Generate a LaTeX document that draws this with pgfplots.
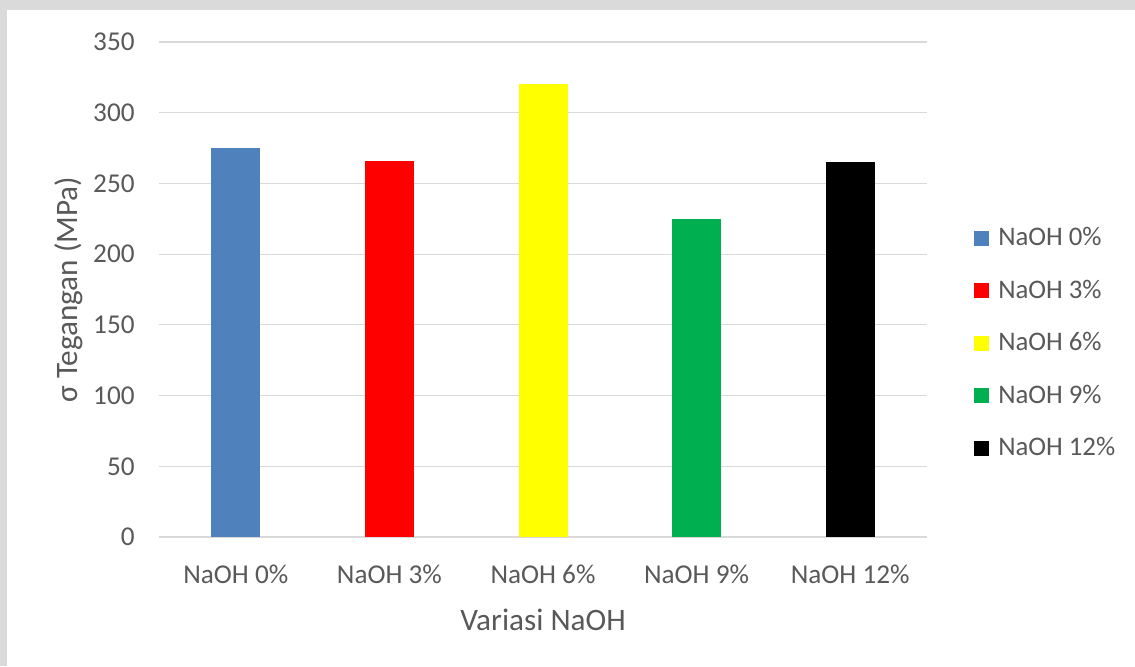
\documentclass[border=0pt]{standalone}
\usepackage{fontspec}
\setmainfont{Carlito}
\usepackage{pgfplots}
\pgfplotsset{compat=1.18}

\definecolor{txt}{HTML}{595959}
\definecolor{gridc}{HTML}{D9D9D9}
\definecolor{framec}{HTML}{DADADA}
\definecolor{c0}{HTML}{4F81BD}
\definecolor{c3}{HTML}{FF0000}
\definecolor{c6}{HTML}{FFFF00}
\definecolor{c9}{HTML}{00B050}
\definecolor{c12}{HTML}{000000}

\pgfplotsset{
  mybar/.style={
    ybar, bar width=24.5pt, bar shift=0pt, draw=none,
    legend image code/.code={\fill[##1,draw=none] (0pt,-4.4pt) rectangle (7.5pt,3.1pt);}
  }
}

\begin{document}
\begin{tikzpicture}
% page background with a light frame
\fill[framec] (0,0) rectangle (567.5pt,-333pt);
\fill[white] (3.5pt,-5pt) rectangle (567.5pt,-333pt);
\useasboundingbox (0,0) rectangle (567.5pt,-333pt);
\begin{axis}[
  at={(79.5pt,-21pt)}, anchor=north west,
  scale only axis, width=384pt, height=247.5pt,
  xmin=-0.5, xmax=4.5, ymin=0, ymax=350,
  ytick={0,50,...,350},
  xtick={0,1,2,3,4},
  xticklabels={NaOH 0\%,NaOH 3\%,NaOH 6\%,NaOH 9\%,NaOH 12\%},
  ymajorgrids,
  major grid style={gridc, line width=0.6pt},
  axis line style={draw=none},
  major tick length=0pt,
  /pgf/number format/assume math mode=true,
  tick label style={font=\fontsize{13.6}{16}\selectfont, text=txt},
  yticklabel style={inner sep=0pt, anchor=east, xshift=-12pt},
  xticklabel style={inner sep=0pt, anchor=north, yshift=-14pt},
  xlabel={Variasi NaOH},
  ylabel={σ Tegangan (MPa)},
  label style={font=\fontsize{15.6}{18}\selectfont, text=txt},
  x label style={at={(axis description cs:0.5,-0.168)}, anchor=center},
  y label style={at={(axis description cs:-0.118,0.5)}, anchor=center},
  legend style={
    at={(axis description cs:1.061,0.394)}, anchor=west,
    draw=none, fill=none, inner sep=0pt,
    font=\fontsize{13.4}{16}\selectfont,
    nodes={inner sep=0pt, text=txt, text height=9pt, text depth=0pt},
    row sep=17.25pt,
    /tikz/every odd column/.append style={column sep=4.5pt},
  },
  legend cell align=left,
]
\addplot[mybar, fill=c0]  coordinates {(0,275)};
\addplot[mybar, fill=c3]  coordinates {(1,266)};
\addplot[mybar, fill=c6]  coordinates {(2,320)};
\addplot[mybar, fill=c9]  coordinates {(3,225)};
\addplot[mybar, fill=c12] coordinates {(4,265)};
\legend{NaOH 0\%,NaOH 3\%,NaOH 6\%,NaOH 9\%,NaOH 12\%}
\end{axis}
\end{tikzpicture}
\end{document}
